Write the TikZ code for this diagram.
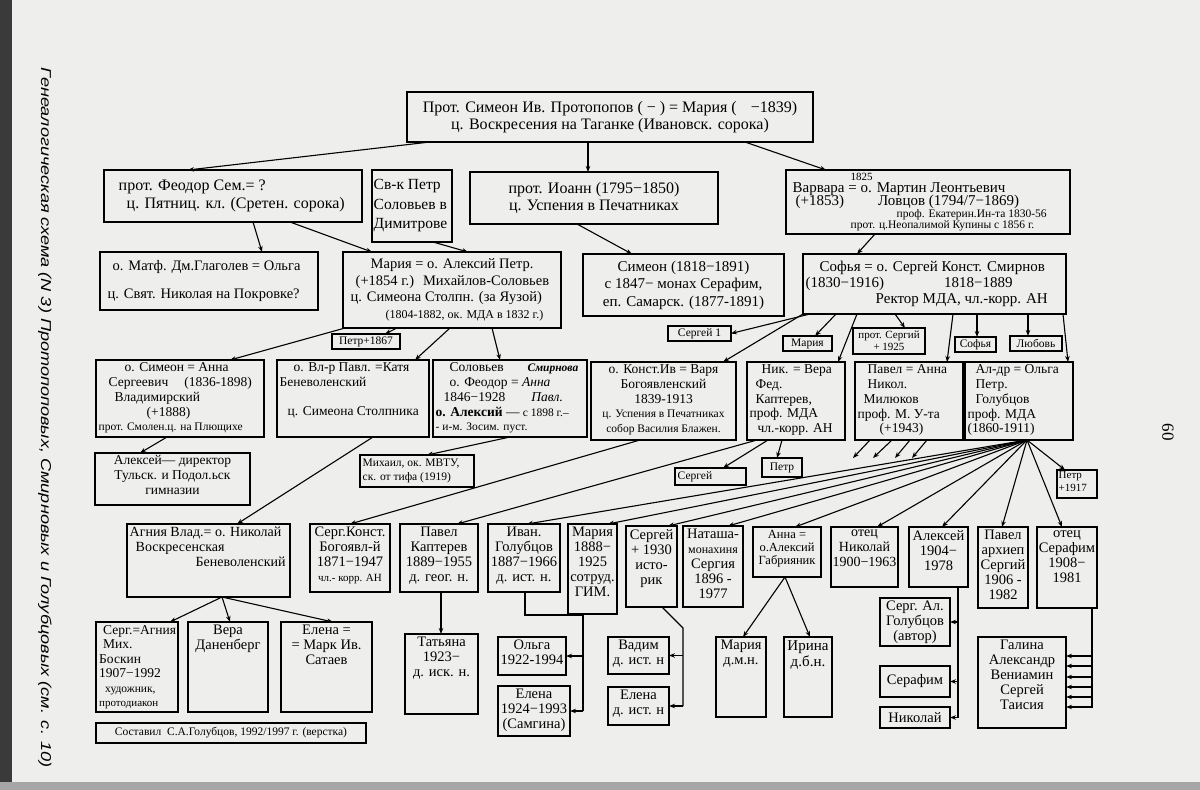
\documentclass[tikz,border=0pt]{standalone}
\usepackage{fontspec}
\setmainfont{Liberation Serif}
\newfontfamily\headfont{Liberation Sans}
\usetikzlibrary{arrows.meta}

\definecolor{paper}{RGB}{238,238,236}
\definecolor{scanedge}{RGB}{58,58,58}

\newcommand\fs[2]{\fontsize{#1}{#2}\selectfont\lineskiplimit=-20pt\relax}

\tikzset{
  box/.style={draw, line width=1.4pt, inner sep=0pt, outer sep=0pt},
  txt/.style={inner sep=2.5pt, font=\fs{14.5}{15}},
  tc/.style={anchor=north, align=center, at={(\boxname.north)}},
  tl/.style={anchor=north west, align=left, at={(\boxname.north west)}},
  cc/.style={anchor=center, align=center, at={(\boxname.center)}},
  cl/.style={anchor=west, align=left, at={(\boxname.west)}},
  link/.style={line width=1.1pt, -{Stealth[length=6pt,width=4.5pt]}},
  wire/.style={line width=1.1pt},
}

% box from (x1,y1) to (x2,y2), text node #2-t inside it
\newcommand\gbox[7][]{%
  \def\boxname{#2}%
  \node[box, minimum width={(#5-#3)*1pt}, minimum height={(#6-#4)*1pt}]
    (#2) at ({(#3+#5)/2},{(#4+#6)/2}) {};
  \node[txt, tc, #1] (#2-t) {#7};}

\begin{document}
\begin{tikzpicture}[x=1pt, y=-1pt]
  \useasboundingbox (0,0) rectangle (1200,790);
  \fill[paper] (0,0) rectangle (1200,790);
  \fill[scanedge] (0,0) rectangle (12,790);
  \fill[scanedge!45] (0,782) rectangle (1200,790);

  \node[rotate=-90] (title) at (45,418)
    {\resizebox{700pt}{10.5pt}{\headfont\itshape Генеалогическая схема (N 3) Протопоповых, Смирновых и Голубцовых (см. с. 10)}};
  \node[rotate=-90, font=\fs{17}{17}] (pagenum) at (1168,432) {60};

  % first generations
  \gbox[cc, font=\fs{16}{17}]{top}{407}{92}{813}{142}{Прот. Симеон Ив. Протопопов ( − ) = Мария (\hspace{14pt}−1839)\\ц. Воскресения на Таганке (Ивановск. сорока)}
  \gbox[cl, font=\fs{16}{18}]{feodor}{104}{170}{362}{222}{\hspace*{12pt}прот. Феодор Сем.= ?\\\hspace*{20pt}ц. Пятниц. кл. (Сретен. сорока)}
  \gbox[cl, font=\fs{15.5}{19.5}, inner sep=1.5pt]{svk}{372}{170}{452}{242}{Св-к Петр\\Соловьев в\\Димитрове}
  \gbox[cc, font=\fs{16}{17}]{ioann}{470}{172}{718}{224}{прот. Иоанн (1795−1850)\\ц. Успения в Печатниках}
  \gbox[cl, font=\fs{15}{13.5}]{varvara}{786}{170}{1070}{234}{\hspace*{62pt}{\fs{11}{11}1825}\\[-1.5pt]\hspace*{4pt}Варвара = о. Мартин Леонтьевич\\\hspace*{7pt}(+1853)\hspace{34pt}Ловцов (1794/7−1869)\\[-2pt]\hspace*{108pt}{\fs{11.5}{11.5}проф. Екатерин.Ин-та 1830-56}\\[-2.5pt]\hspace*{62pt}{\fs{11.5}{11.5}прот. ц.Неопалимой Купины с 1856 г.}}

  \gbox[cl, font=\fs{14.5}{28}]{glag}{100}{252}{318}{310}{\hspace*{10pt}о. Матф. Дм.Глаголев = Ольга\\\hspace*{5pt}ц. Свят. Николая на Покровке?}
  \gbox[cl, font=\fs{14.5}{16.5}]{maria}{343}{252}{561}{328}{\hspace*{25pt}Мария = о. Алексий Петр.\\\hspace*{10pt}(+1854 г.)\hspace{9pt}Михайлов-Соловьев\\\hspace*{5pt}ц. Симеона Столпн. (за Яузой)\\\hspace*{40pt}{\fs{12}{12}(1804-1882, ок. МДА в 1832 г.)}}
  \gbox[cc, font=\fs{15}{17.5}]{simeon}{583}{254}{784}{316}{Симеон (1818−1891)\\с 1847− монах Серафим,\\еп. Самарск. (1877-1891)}
  \gbox[cl, font=\fs{15}{16}]{sofya}{803}{254}{1066}{314}{\hspace*{14pt}Софья = о. Сергей Конст. Смирнов\\(1830−1916)\hspace{60pt}1818−1889\\\hspace*{70pt}Ректор МДА, чл.-корр. АН}

  \gbox[cc, font=\fs{11.5}{12}]{petr67}{332}{334}{400}{349}{Петр+1867}
  \gbox[cc, font=\fs{11.5}{12}]{serg1}{668}{326}{731}{341}{Сергей 1}
  \gbox[cc, font=\fs{11.5}{12}]{mariaS}{783}{336}{832}{351}{Мария}
  \gbox[cc, font=\fs{11}{11.5}]{protserg}{853}{328}{925}{354}{прот. Сергий\\+ 1925}
  \gbox[cc, font=\fs{11.5}{12}]{sofyaS}{955}{337}{996}{352}{Софья}
  \gbox[cc, font=\fs{11.5}{12}]{lyubov}{1010}{336}{1062}{351}{Любовь}

  % grandchildren
  \gbox[tl, font=\fs{13.5}{14.8}]{simanna}{96}{360}{264}{437}{\hspace*{26pt}о. Симеон = Анна\\\hspace*{10pt}Сергеевич\hspace{16pt}(1836-1898)\\\hspace*{16pt}Владимирский\\\hspace*{48pt}(+1888)\\{\fs{11.5}{11.5}прот. Смолен.ц. на Плющихе}}
  \gbox[tl, font=\fs{13.5}{14.8}]{vlr}{277}{360}{429}{437}{\hspace*{14pt}о. Вл-р Павл. =Катя\\Беневоленский\\[14.8pt]\hspace*{8pt}ц. Симеона Столпника}
  \gbox[tl, font=\fs{13.5}{14.8}]{solov}{433}{360}{587}{437}{\hspace*{14pt}Соловьев\hspace{24pt}{\fs{11.5}{11.5}\bfseries\itshape Смирнова}\\\hspace*{14pt}о. Феодор = \textit{Анна}\\\hspace*{8pt}1846−1928\hspace{26pt}\textit{Павл.}\\\textbf{о. Алексий} — {\fs{11.5}{11.5}с 1898 г.--}\\{\fs{11.5}{11.5}- и-м. Зосим. пуст.}}
  \gbox[tc, font=\fs{13.5}{14.8}]{konst}{591}{362}{736}{440}{о. Конст.Ив = Варя\\Богоявленский\\1839-1913\\{\fs{11.5}{11.5}ц. Успения в Печатниках}\\{\fs{11.5}{11.5}собор Василия Блажен.}}
  \gbox[tl, font=\fs{13.5}{14.8}]{nik}{747}{362}{845}{440}{\hspace*{12pt}Ник. = Вера\\\hspace*{6pt}Фед.\\\hspace*{6pt}Каптерев,\\проф. МДА\\\hspace*{8pt}чл.-корр. АН}
  \gbox[tl, font=\fs{13.5}{14.8}]{pavel}{855}{362}{963}{440}{\hspace*{10pt}Павел = Анна\\\hspace*{10pt}Никол.\\\hspace*{6pt}Милюков\\проф. М. У-та\\\hspace*{22pt}(+1943)}
  \gbox[tl, font=\fs{13.5}{14.8}]{aldr}{965}{362}{1073}{440}{\hspace*{8pt}Ал-др = Ольга\\\hspace*{8pt}Петр.\\\hspace*{8pt}Голубцов\\проф. МДА\\(1860-1911)}

  \gbox[tc, font=\fs{13.5}{15}]{alexdir}{95}{453}{250}{505}{Алексей— директор\\Тульск. и Подол.ьск\\гимназии}
  \gbox[cl, font=\fs{11.5}{13.5}]{mikh}{360}{455}{474}{487}{Михаил, ок. МВТУ,\\ск. от тифа (1919)}
  \gbox[cl, font=\fs{11.5}{12}]{sergS}{675}{468}{746}{485}{Сергей}
  \gbox[cc, font=\fs{11.5}{12}]{petrS}{762}{458}{802}{477}{Петр}
  \gbox[tl, font=\fs{11}{12.5}, inner sep=1.5pt]{petr17}{1057}{470}{1097}{498}{Петр\\+1917}

  % next generation
  \gbox[tl, font=\fs{14}{15}]{agnia}{127}{524}{290}{597}{Агния Влад.= о. Николай\\\hspace*{6pt}Воскресенская\\\hspace*{66pt}Беневоленский}
  \gbox[inner sep=3pt]{sergk}{310}{524}{390}{592}{Серг.Конст.\\Богоявл-й\\1871−1947\\{\fs{11}{11}чл.- корр. АН}}
  \gbox[inner sep=3pt]{pavelk}{400}{524}{478}{592}{Павел\\Каптерев\\1889−1955\\д. геог. н.}
  \gbox[inner sep=3pt]{ivan}{488}{524}{560}{592}{Иван.\\Голубцов\\1887−1966\\д. ист. н.}
  \gbox[inner sep=3pt]{maria88}{568}{524}{617}{614}{Мария\\1888−\\1925\\сотруд.\\ГИМ.}
  \gbox[inner sep=3pt]{serg30}{626}{526}{677}{607}{Сергей\\+ 1930\\исто-\\рик}
  \gbox[inner sep=3pt]{natasha}{683}{526}{743}{607}{Наташа-\\{\fs{12}{12}монахиня}\\Сергия\\1896 -\\1977}
  \gbox[inner sep=3pt, font=\fs{12.5}{13}]{anna}{753}{527}{821}{577}{Анна =\\о.Алексий\\Габрияник}
  \gbox[inner sep=3pt, font=\fs{14}{15}]{nikol}{831}{527}{898}{587}{отец\\Николай\\1900−1963}
  \gbox[inner sep=3pt]{alexei}{909}{527}{968}{587}{Алексей\\1904−\\1978}
  \gbox[inner sep=3pt]{pavela}{978}{527}{1028}{608}{Павел\\архиеп\\Сергий\\1906 -\\1982}
  \gbox[inner sep=3pt]{serafim}{1037}{527}{1097}{608}{отец\\Серафим\\1908−\\1981}

  % youngest
  \gbox[tl, font=\fs{13.5}{14.5}, inner sep=3pt]{sergagn}{96}{622}{178}{712}{\hspace*{4pt}Серг.=Агния\\\hspace*{4pt}Мих.\\Боскин\\1907−1992\\\hspace*{6pt}{\fs{11.5}{11.5}художник,}\\{\fs{11}{11}протодиакон}}
  \gbox[inner sep=3pt]{vera}{188}{622}{268}{712}{Вера\\Даненберг}
  \gbox[inner sep=3pt]{elenam}{281}{622}{372}{712}{Елена =\\= Марк Ив.\\Сатаев}
  \gbox[cc, font=\fs{11.5}{12}]{sost}{96}{723}{366}{743}{Составил\ \ С.А.Голубцов, 1992/1997 г. (верстка)}
  \gbox[inner sep=3pt]{tatyana}{405}{634}{478}{714}{Татьяна\\1923−\\д. иск. н.}
  \gbox[inner sep=3pt]{olga}{498}{637}{566}{675}{Ольга\\1922-1994}
  \gbox[inner sep=3pt]{elena24}{498}{686}{570}{736}{Елена\\1924−1993\\(Самгина)}
  \gbox[inner sep=3pt]{vadim}{608}{637}{669}{674}{Вадим\\д. ист. н}
  \gbox[inner sep=3pt]{elenai}{608}{687}{669}{725}{Елена\\д. ист. н}
  \gbox[inner sep=3pt]{mariad}{716}{637}{766}{717}{Мария\\д.м.н.}
  \gbox[inner sep=3pt, font=\fs{15}{16}]{irina}{784}{637}{832}{717}{Ирина\\д.б.н.}
  \gbox[inner sep=3pt]{sergal}{880}{598}{950}{646}{Серг. Ал.\\Голубцов\\(автор)}
  \gbox[cc]{serafs}{880}{666}{950}{697}{Серафим}
  \gbox[cc]{nikS}{880}{707}{950}{728}{Николай}
  \gbox[inner sep=3pt]{galina}{978}{637}{1066}{728}{Галина\\Александр\\Вениамин\\Сергей\\Таисия}

  % arrows, top down
  \draw[link] ([xshift=23]top.south west) -- ([xshift=84]feodor.north west);
  \draw[link] ([xshift=181]top.south west) -- ([xshift=118]ioann.north west);
  \draw[link] ([xshift=338]top.south west) -- ([xshift=40]varvara.north west);
  \draw[link] ([xshift=149]feodor.south west) -- ([xshift=162]glag.north west);
  \draw[link] ([xshift=186]feodor.south west) -- ([xshift=29]maria.north west);
  \draw[link] ([xshift=61]svk.south west) -- ([xshift=125]maria.north west);
  \draw[link] ([xshift=107]ioann.south west) -- ([xshift=49]simeon.north west);
  \draw[link] ([xshift=89]varvara.south west) -- ([xshift=54]sofya.north west);

  \draw[link] ([xshift=2]maria.south west) -- ([xshift=134]simanna.north west);
  \draw[link] ([xshift=54]maria.south west) -- ([xshift=53]petr67.north west);
  \draw[link] ([xshift=107]maria.south west) -- ([xshift=138]vlr.north west);
  \draw[link] ([xshift=149]maria.south west) -- ([xshift=67]solov.north west);

  \draw[link] (sofya.south west) -- ([xshift=132]konst.north west);
  \draw[link] ([xshift=7]sofya.south west) -- (serg1.east);
  \draw[link] ([xshift=33]sofya.south west) -- ([xshift=32]mariaS.north west);
  \draw[link] ([xshift=54]sofya.south west) -- ([xshift=91]nik.north west);
  \draw[link] ([xshift=92]sofya.south west) -- ([xshift=52]protserg.north west);
  \draw[link] ([xshift=150]sofya.south west) -- ([xshift=92]pavel.north west);
  \draw[link] ([xshift=174]sofya.south west) -- ([xshift=22]sofyaS.north west);
  \draw[link] ([xshift=225]sofya.south west) -- ([xshift=18]lyubov.north west);
  \draw[link] ([xshift=260]sofya.south west) -- ([xshift=103]aldr.north west);

  \draw[link] ([xshift=71]simanna.south west) -- ([xshift=45]alexdir.north west);
  \draw[link] ([xshift=96]vlr.south west) -- ([xshift=110]agnia.north west);
  \draw[link] ([xshift=77]solov.south west) -- ([xshift=67]mikh.north west);
  \draw[link] ([xshift=49]konst.south west) -- ([xshift=40]sergk.north west);
  \draw[link] ([xshift=10]nik.south west) -- ([xshift=57]pavelk.north west);
  \draw[link] ([xshift=21]nik.south west) -- ([xshift=48]sergS.north west);
  \draw[link] ([xshift=35]nik.south west) -- ([xshift=15]petrS.north west);
  \foreach \a/\b [count=\i] in {15/-2, 37/18, 55/40, 72/57}{
    \coordinate (stub\i) at ([xshift=\b, yshift=-18]pavel.south west);
    \draw[link] ([xshift=\a]pavel.south west) -- (stub\i);}

  % Golubtsov children
  \coordinate (hub) at ([xshift=62]aldr.south west);
  \foreach \n/\d in {ivan/39, maria88/40, serg30/42, natasha/45, anna/42,
                     nikol/46, alexei/33, pavela/24, serafim/25, petr17/8}
    \draw[link] (hub) -- ([xshift=\d]\n.north west);

  \coordinate (ahub) at ([xshift=95]agnia.south west);
  \foreach \n/\d in {sergagn/74, vera/42, elenam/52}
    \draw[link] (ahub) -- ([xshift=\d]\n.north west);
  \draw[link] ([xshift=41]pavelk.south west) -- ([xshift=36]tatyana.north west);
  \draw[wire] ([xshift=37]ivan.south west) |- ++(58,23) coordinate (ibus) -- (ibus |- elena24.east);
  \foreach \n in {olga, elena24} \draw[link] (ibus |- \n.east) -- (\n.east);
  \draw[wire] ([xshift=36]serg30.south west) -- ++(21,21) coordinate (sbus) -- (sbus |- elenai.east);
  \foreach \n in {vadim, elenai} \draw[link] (sbus |- \n.east) -- (\n.east);
  \coordinate (nhub) at ([xshift=32]anna.south west);
  \draw[link] (nhub) -- ([xshift=27]mariad.north west);
  \draw[link] (nhub) -- ([xshift=26]irina.north west);
  \coordinate (abus) at ([xshift=49]alexei.south west);
  \draw[wire] (abus) -- (abus |- nikS.east);
  \foreach \n in {sergal, serafs, nikS} \draw[link] (abus |- \n.east) -- (\n.east);
  \coordinate (gbus) at ([xshift=55]serafim.south west);
  \draw[wire] (gbus) -- ++(0,100);
  \foreach \d in {19,29,40,50,60,70}{
    \coordinate (gt) at ([yshift=-\d]galina.north east);
    \draw[link] (gbus |- gt) -- (gt);}
\end{tikzpicture}
\end{document}
